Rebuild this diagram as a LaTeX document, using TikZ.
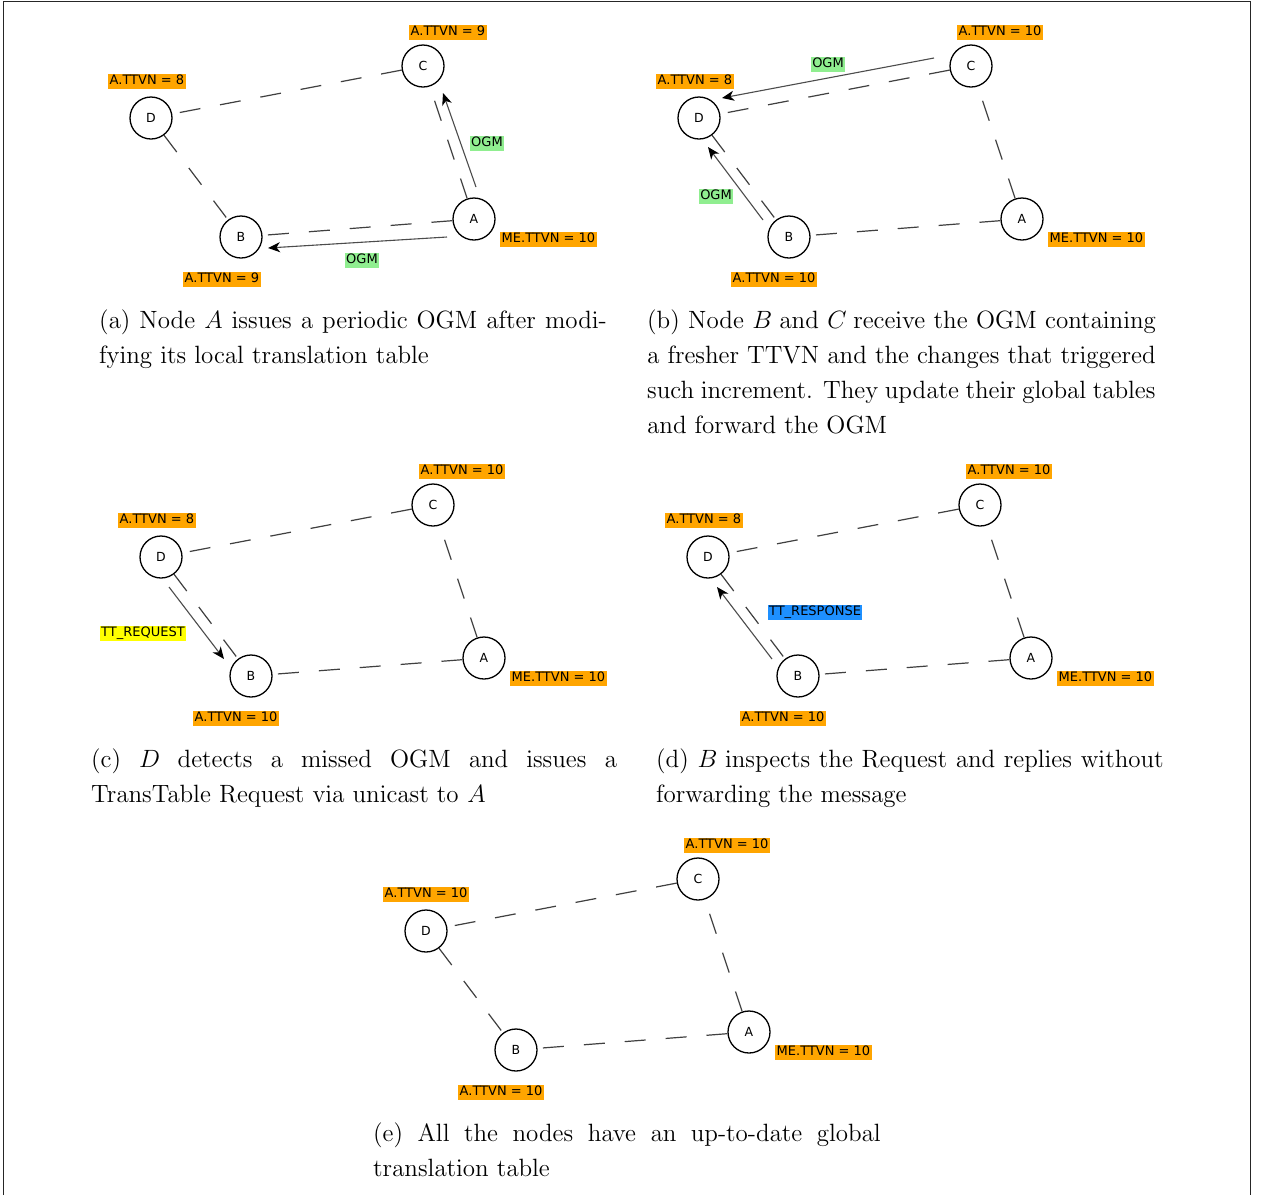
\documentclass[tikz,border=0pt]{standalone}
\usepackage{fontspec}
\newfontfamily\dvs{DejaVu Sans}
\usetikzlibrary{arrows.meta,backgrounds}
\font\capfont=cmr12 at 25pt
\font\capmi=cmmi12 at 25pt
\newcommand\cmi[1]{{\capmi #1}}
\newcommand\jline[2]{\hbox to #1{\spaceskip=.33em plus 1fil minus .12em\relax #2}}
\newcommand\nline[1]{\hbox{#1}}
\definecolor{lblorange}{HTML}{FFA500}
\definecolor{lblgreen}{HTML}{90EE90}
\definecolor{lblyellow}{HTML}{FFFF00}
\definecolor{lblblue}{HTML}{1E90FF}
\tikzset{
  nd/.style={circle, draw=black, line width=1.3pt, fill=white, minimum size=42pt,
    inner sep=0pt, font=\dvs\fontsize{12.5}{13}\selectfont},
  ttl/.style={anchor=west, fill=lblorange, inner xsep=1.5pt, inner ysep=1pt,
    text height=10pt, text depth=3pt, font=\dvs\fontsize{13}{14}\selectfont},
  msg/.style={fill=#1, inner xsep=1.5pt, inner ysep=1pt,
    text height=10pt, text depth=3pt, font=\dvs\fontsize{13}{14}\selectfont},
  lnk/.style={draw=black!75, line width=1.2pt, dash pattern=on 21pt off 20pt},
  mv/.style={draw=black!70, line width=1.1pt,
    -{Stealth[length=12pt,width=10pt,inset=3.5pt,color=black]}},
  captxt/.style={anchor=base west, inner sep=0pt, font=\capfont},
}
\newcommand\netpanel[5]{%
  \begin{scope}[shift={#2}]
    \node[nd] (#1D) at (151,118) {D};
    \node[nd] (#1C) at (423,66) {C};
    \node[nd] (#1A) at (474,219) {A};
    \node[nd] (#1B) at (241,237) {B};
    \node[ttl] (#1lD) at (108,81) {A.TTVN = #3};
    \node[ttl] (#1lC) at (409,32) {A.TTVN = #4};
    \node[ttl] (#1lB) at (183,279) {A.TTVN = #5};
    \node[ttl] (#1lA) at (500,239) {ME.TTVN = 10};
    \draw[lnk] (#1C) -- (#1D);
    \draw[lnk] (#1A) -- (#1C);
    \draw[lnk] (#1A) -- (#1B);
    \draw[lnk] (#1D) -- (#1B);
  \end{scope}}
\begin{document}
\begin{tikzpicture}[x=1pt,y=-1pt]
\useasboundingbox (0,0) rectangle (1265,1195);
\begin{scope}[on background layer]
  \fill[white] (0,0) rectangle (1265,1195);
\end{scope}
\draw[black!85, line width=1pt] (3.5,1195) -- (3.5,1) -- (1250.5,1) -- (1250.5,1195);

% panel (a)
\netpanel{a}{(0,0)}{8}{9}{9}
\coordinate (aAC1) at (476,187); \coordinate (aAC2) at (443,93);
\coordinate (aAB1) at (447,237); \coordinate (aAB2) at (268,248);
\draw[mv] (aAC1) -- (aAC2);
\draw[mv] (aAB1) -- (aAB2);
\node[msg=lblgreen] (ogma1) at (487,143) {OGM};
\node[msg=lblgreen] (ogma2) at (362,260) {OGM};
\node[captxt] (capa) at (99,328) {\vtop{\baselineskip=35pt
  \jline{508pt}{(a) Node \cmi{A} issues a periodic OGM after modi-}
  \nline{fying its local translation table}}};

% panel (b)
\netpanel{b}{(548,0)}{8}{10}{10}
\coordinate (bCD1) at (934,58); \coordinate (bCD2) at (722,98);
\coordinate (bBD1) at (763,220); \coordinate (bBD2) at (708,147);
\draw[mv] (bCD1) -- (bCD2);
\draw[mv] (bBD1) -- (bBD2);
\node[msg=lblgreen] (ogmb1) at (828,64) {OGM};
\node[msg=lblgreen] (ogmb2) at (716,196) {OGM};
\node[captxt] (capb) at (647,328) {\vtop{\baselineskip=35pt
  \jline{509pt}{(b) Node \cmi{B} and \cmi{C} receive the OGM containing}
  \jline{509pt}{a fresher TTVN and the changes that triggered}
  \jline{509pt}{such increment. They update their global tables}
  \nline{and forward the OGM}}};

% panel (c)
\netpanel{c}{(10,439)}{8}{10}{10}
\coordinate (cDB1) at (169,587); \coordinate (cDB2) at (224,659);
\draw[mv] (cDB1) -- (cDB2);
\node[msg=lblyellow] (treq) at (143,633) {TT\_REQUEST};
\node[captxt] (capc) at (91,767) {\vtop{\baselineskip=35pt
  \jline{526pt}{(c) \cmi{D} detects a missed OGM and issues a}
  \nline{TransTable Request via unicast to \cmi{A}}}};

% panel (d)
\netpanel{d}{(557,439)}{8}{10}{10}
\coordinate (dBD1) at (772,659); \coordinate (dBD2) at (717,587);
\draw[mv] (dBD1) -- (dBD2);
\node[msg=lblblue] (tresp) at (815,612) {TT\_RESPONSE};
\node[captxt] (capd) at (656,767) {\vtop{\baselineskip=35pt
  \jline{508pt}{(d) \cmi{B} inspects the Request and replies without}
  \nline{forwarding the message}}};

% panel (e)
\netpanel{e}{(275,813)}{10}{10}{10}
\node[captxt] (cape) at (373,1141) {\vtop{\baselineskip=35pt
  \jline{508pt}{(e) All the nodes have an up-to-date global}
  \nline{translation table}}};
\end{tikzpicture}
\end{document}
